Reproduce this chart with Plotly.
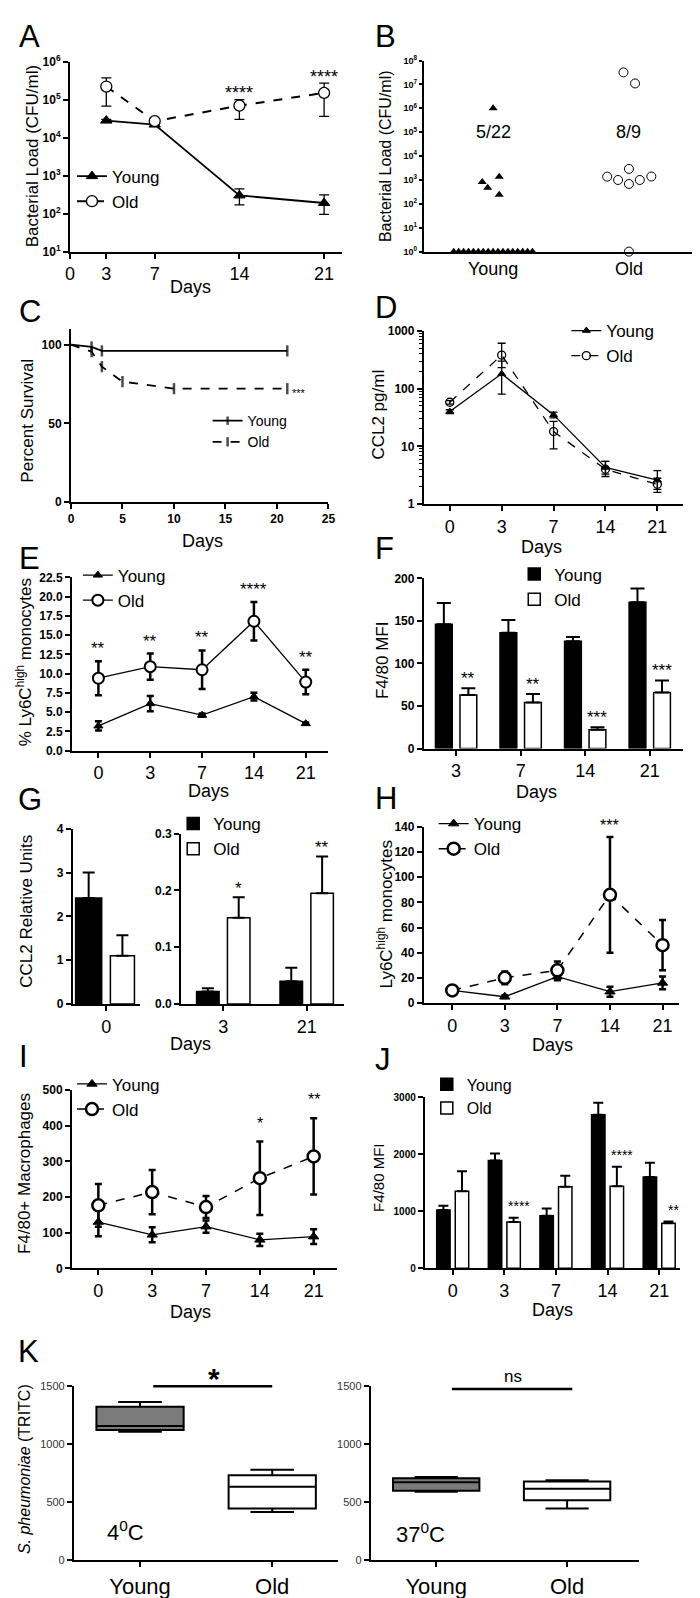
import numpy as np
import plotly.graph_objects as go

W, H = 700, 1598
FONT = "Liberation Sans, Arial, Helvetica, sans-serif"

# ===================== DATA =====================
# A: bacterial load (CFU/ml) over days
days_A = [3, 7, 14, 21]
young_A = [28000, 22000, 300, 190]
young_A_up = [2000, 2000, 150, 120]
young_A_dn = [2000, 2000, 130, 95]
old_A = [220000, 27000, 69000, 150000]
old_A_up = [150000, 3000, 31000, 120000]
old_A_dn = [153000, 3000, 39000, 114000]
stars_A = ["", "", "****", "****"]

# B: individual bacterial loads
young_B = [1000000, 1380, 820, 470, 240,
           1, 1, 1, 1, 1, 1, 1, 1, 1, 1, 1, 1, 1, 1, 1, 1, 1]
old_B = [32000000, 11000000, 2900, 1380, 1000, 680, 1000, 1400, 1]
groups_B = ["Young", "Old"]
frac_B = ["5/22", "8/9"]
stars_B = "***"

# C: survival
surv_t_young = [0, 2, 3, 21]
surv_young = [100, 98.5, 96, 96]
surv_t_old = [0, 2, 3, 5, 10, 21]
surv_old = [100, 95.5, 86, 76.5, 72, 72]

# shared day categories
days_cat = ["0", "3", "7", "14", "21"]

# D: CCL2 pg/ml
young_D = [40, 180, 35, 4.3, 2.6]
young_D_up = [3, 120, 4, 1.2, 1.2]
young_D_dn = [3, 100, 4, 1.0, 0.8]
old_D = [58, 380, 18, 4.0, 2.2]
old_D_up = [4, 230, 9, 1.5, 0.6]
old_D_dn = [4, 150, 9, 1.0, 0.6]

# E: % Ly6C high monocytes
young_E = [3.2, 6.1, 4.6, 7.0, 3.5]
young_E_err = [0.6, 1.0, 0.2, 0.5, 0.15]
old_E = [9.4, 10.9, 10.5, 16.8, 8.9]
old_E_err = [2.2, 1.7, 2.5, 2.5, 1.6]
stars_E = ["**", "**", "**", "****", "**"]

# F: F4/80 MFI
days_F = ["3", "7", "14", "21"]
young_F = [146, 136, 126, 172]
young_F_err = [25, 15, 5, 16]
old_F = [63, 54, 22, 66]
old_F_err = [8, 10, 3, 14]
stars_F = ["**", "**", "***", "***"]

# G: CCL2 relative units
days_G0 = ["0"]
young_G0 = [2.42]
young_G0_err = [0.58]
old_G0 = [1.1]
old_G0_err = [0.47]
days_G = ["3", "21"]
young_G = [0.022, 0.040]
young_G_err = [0.006, 0.024]
old_G = [0.152, 0.195]
old_G_err = [0.036, 0.065]
stars_G = ["*", "**"]

# H: Ly6C high monocytes
young_H = [10, 5, 21, 9, 16]
young_H_err = [1, 1, 3, 4, 5]
old_H = [10, 20, 26, 86, 46]
old_H_err = [1.5, 5, 7, 46, 20]
stars_H = ["", "", "", "***", ""]

# I: F4/80+ macrophages
young_I = [130, 94, 117, 80, 89]
young_I_err = [40, 21, 17, 17, 21]
old_I = [177, 214, 172, 253, 314]
old_I_err = [60, 62, 31, 103, 107]
stars_I = ["", "", "", "*", "**"]

# J: F4/80 MFI
young_J = [1020, 1890, 920, 2690, 1600]
young_J_err = [75, 120, 130, 210, 250]
old_J = [1350, 810, 1430, 1440, 790]
old_J_err = [350, 75, 190, 340, 30]
stars_J = ["", "****", "", "****", "**"]

# K: S. pneumoniae binding (box stats)
groups_K = ["Young", "Old"]
k4_lo = [1107, 417]
k4_q1 = [1123, 447]
k4_med = [1157, 633]
k4_q3 = [1323, 733]
k4_hi = [1363, 780]
k37_lo = [590, 447]
k37_q1 = [600, 517]
k37_med = [673, 617]
k37_q3 = [707, 680]
k37_hi = [717, 690]
sig_K = ["*", "ns"]
temp_K = ["4<sup>0</sup>C", "37<sup>0</sup>C"]

# ===================== LAYOUT HELPERS =====================
def sfx(n):
    return "" if n == 1 else str(n)

layout = dict(width=W, height=H, margin=dict(l=0, r=0, t=0, b=0),
              paper_bgcolor="white", plot_bgcolor="white", showlegend=True,
              font=dict(family=FONT, color="black"), barmode="overlay")

AX = {
    1: (58, 335, 45, 237),
    2: (418, 693, 44, 237),
    3: (59, 321, 315, 490),
    4: (418, 682, 317, 492),
    5: (60, 320, 566, 741),
    6: (418, 682, 567, 739),
    7: (61, 129, 820, 997),
    8: (171, 337, 825, 997),
    9: (418, 678, 818, 996),
    10: (60, 330, 1084, 1264),
    11: (419, 679, 1091, 1264),
    12: (62, 331, 1383, 1559),
    13: (364, 637, 1383, 1559),
}

def base_axis():
    return dict(showline=True, linecolor="black", linewidth=2, ticks="outside",
                ticklen=5, tickwidth=2, tickcolor="black", showgrid=False,
                zeroline=False, fixedrange=True)

def add_axes(n, xkw, ykw):
    x0, x1, yt, yb = AX[n]
    s = sfx(n)
    xa = base_axis(); xa.update(domain=[x0 / W, x1 / W], anchor="y" + s); xa.update(xkw)
    ya = base_axis(); ya.update(domain=[1 - yb / H, 1 - yt / H], anchor="x" + s); ya.update(ykw)
    layout["xaxis" + s] = xa
    layout["yaxis" + s] = ya

def tf(size, bold=False, color="black"):
    d = dict(size=size, family=FONT, color=color)
    if bold:
        d["weight"] = "bold"
    return d

XT = tf(18)
YT = tf(12, True)
idx5 = list(range(5))

# A
add_axes(1, dict(range=[0, 22.5], tickvals=[0, 3, 7, 14, 21], tickfont=XT),
         dict(type="log", range=[1, 6], tickvals=[10 ** k for k in range(1, 7)],
              ticktext=["10<sup>%d</sup>" % k for k in range(1, 7)], tickfont=tf(12, True)))
# B
add_axes(2, dict(range=[0.49, 2.48], tickvals=[1, 2], ticktext=groups_B, ticks="", tickfont=XT),
         dict(type="log", range=[0, 8], tickvals=[10 ** k for k in range(0, 9)],
              ticktext=["10<sup>%d</sup>" % k for k in range(0, 9)], tickfont=tf(9, True),
              ticklen=3))
# C
add_axes(3, dict(range=[0, 25], tickvals=[0, 5, 10, 15, 20, 25], tickfont=tf(12, True)),
         dict(range=[0, 110], tickvals=[0, 50, 100], tickfont=YT))
# D
add_axes(4, dict(range=[-0.5, 4.5], tickvals=idx5, ticktext=days_cat, tickfont=XT),
         dict(type="log", range=[0, 3], tickvals=[1, 10, 100, 1000],
              ticktext=["1", "10", "100", "1000"], tickfont=YT,
              minor=dict(ticks="outside", ticklen=3, tickwidth=1, tickcolor="black",
                         dtick="D1", showgrid=False)))
# E
add_axes(5, dict(range=[-0.51, 4.42], tickvals=idx5, ticktext=days_cat, tickfont=XT),
         dict(range=[0, 22.5], dtick=2.5, tickformat=".1f", tickfont=YT))
# F
add_axes(6, dict(range=[-0.5, 3.52], tickvals=list(range(4)), ticktext=days_F, tickfont=XT),
         dict(range=[0, 200], dtick=50, tickfont=YT))
# G left / right
add_axes(7, dict(range=[-0.5, 0.5], tickvals=[0], ticktext=days_G0, tickfont=XT),
         dict(range=[0, 4], dtick=1, tickfont=YT))
add_axes(8, dict(range=[-0.506, 1.45], tickvals=[0, 1], ticktext=days_G, tickfont=XT),
         dict(range=[0, 0.3], dtick=0.1, tickformat=".1f", tickfont=YT))
# H
add_axes(9, dict(range=[-0.54, 4.32], tickvals=idx5, ticktext=days_cat, tickfont=XT),
         dict(range=[0, 140], dtick=20, tickfont=tf(12, True)))
# I
add_axes(10, dict(range=[-0.49, 4.44], tickvals=idx5, ticktext=days_cat, tickfont=XT),
         dict(range=[0, 500], dtick=100, tickfont=YT))
# J
add_axes(11, dict(range=[-0.54, 4.41], tickvals=idx5, ticktext=days_cat, tickfont=XT),
         dict(range=[0, 3000], dtick=1000, tickfont=tf(10, True)))
# K
KR1 = [-0.5, 1.5]
KR2 = [-0.5, 1.55]
add_axes(12, dict(range=KR1, tickvals=[0, 1], ticktext=groups_K, tickfont=tf(22)),
         dict(range=[0, 1500], dtick=500, tickfont=tf(11, False, "#333333"), tickwidth=1.5))
add_axes(13, dict(range=KR2, tickvals=[0, 1], ticktext=groups_K, tickfont=tf(22)),
         dict(range=[0, 1500], dtick=500, tickfont=tf(11, False, "#333333"), tickwidth=1.5))

# legends: (name, text-start x px, first item centre y px, font size)
LEG = {
    "legend": (112, 174, 17),
    "legend2": (250, 420, 14),
    "legend3": (615, 330, 17),
    "legend4": (118, 577, 17),
    "legend5": (562, 576, 17),
    "legend6": (215, 828, 17),
    "legend7": (480, 828, 17),
    "legend8": (112, 1091, 17),
    "legend9": (473, 1091, 16),
}
for key, (tx, sy, fs) in LEG.items():
    layout[key] = dict(x=(tx - 52) / W, y=1 - (sy - 14 - fs) / H, xanchor="left",
                       yanchor="top", bgcolor="rgba(0,0,0,0)", font=tf(fs),
                       tracegroupgap=0, itemwidth=30)

# ===================== TRACES =====================
traces = []

def line_tr(n, x, y, up, dn, name, symbol, size, mlw, fill, dash, legend, lw=1.5,
            eth=1.5, ew=4, showlegend=True):
    s = sfx(n)
    return go.Scatter(x=x, y=y, xaxis="x" + s, yaxis="y" + s, mode="lines+markers",
                      name=name, legend=legend, showlegend=showlegend, cliponaxis=False,
                      line=dict(color="black", width=lw, dash=dash),
                      marker=dict(symbol=symbol, size=size, color=fill,
                                  line=dict(color="black", width=mlw)),
                      error_y=dict(type="data", symmetric=False, array=up, arrayminus=dn,
                                   color="black", thickness=eth, width=ew))

def bar_tr(n, x, y, err, name, fill, offset, width, legend, ew=6, eth=2, showlegend=True):
    s = sfx(n)
    return go.Bar(x=x, y=y, xaxis="x" + s, yaxis="y" + s, name=name, legend=legend,
                  showlegend=showlegend, offset=offset, width=width,
                  marker=dict(color=fill, line=dict(color="black", width=1.5)),
                  error_y=dict(type="data", symmetric=False, array=err,
                               arrayminus=[0] * len(err), color="black",
                               thickness=eth, width=ew))

# A
traces.append(line_tr(1, days_A, young_A, young_A_up, young_A_dn, "Young", "triangle-up",
                      10, 1, "black", "solid", "legend", lw=1.8, eth=1.3, ew=5))
traces.append(line_tr(1, days_A, old_A, old_A_up, old_A_dn, "Old", "circle", 11, 1.3,
                      "white", "dash", "legend", lw=2, eth=1.3, ew=5))

# B
young_B_jit = [0.0, 0.045, -0.08, -0.04, 0.045] + list(np.linspace(-0.29, 0.29, 17))
old_B_jit = [-0.04, 0.045, 0.0, -0.16, -0.08, 0.0, 0.08, 0.165, 0.0]
traces.append(go.Scatter(x=[1 + j for j in young_B_jit], y=young_B, xaxis="x2", yaxis="y2",
                         mode="markers", showlegend=False, cliponaxis=False,
                         marker=dict(symbol="triangle-up", size=8, color="black")))
traces.append(go.Scatter(x=[2 + j for j in old_B_jit], y=old_B, xaxis="x2", yaxis="y2",
                         mode="markers", showlegend=False, cliponaxis=False,
                         marker=dict(symbol="circle", size=9, color="white",
                                     line=dict(color="black", width=1))))

# C
traces.append(go.Scatter(x=surv_t_young, y=surv_young, xaxis="x3", yaxis="y3",
                         mode="lines+markers", name="Young", legend="legend2", cliponaxis=False,
                         line=dict(color="black", width=1.8),
                         marker=dict(symbol="line-ns", size=[0] + [8] * (len(surv_young) - 1),
                                     line=dict(color="black", width=2.5))))
traces.append(go.Scatter(x=surv_t_old, y=surv_old, xaxis="x3", yaxis="y3",
                         mode="lines+markers", name="Old", legend="legend2", cliponaxis=False,
                         line=dict(color="black", width=1.8, dash="dash"),
                         marker=dict(symbol="line-ns", size=[0] + [8] * (len(surv_old) - 1),
                                     line=dict(color="black", width=2.5))))

# D
traces.append(line_tr(4, idx5, young_D, young_D_up, young_D_dn, "Young", "triangle-up", 7, 1,
                      "black", "solid", "legend3", lw=1.3, eth=1.3, ew=4))
traces.append(line_tr(4, idx5, old_D, old_D_up, old_D_dn, "Old", "circle-open", 8, 1.3,
                      "black", "dash", "legend3", lw=1.3, eth=1.3, ew=4))

# E
traces.append(line_tr(5, idx5, young_E, young_E_err, young_E_err, "Young", "triangle-up", 8, 1,
                      "black", "solid", "legend4", lw=1.3, eth=2.5, ew=3.5))
traces.append(line_tr(5, idx5, old_E, old_E_err, old_E_err, "Old", "circle", 11, 2,
                      "white", "solid", "legend4", lw=1.3, eth=2.5, ew=3.5))

# F
F_OFF_Y, F_OFF_O, F_W = -0.32, 0.06, 0.26
traces.append(bar_tr(6, list(range(4)), young_F, young_F_err, "Young", "black", F_OFF_Y, F_W,
                     "legend5", ew=7))
traces.append(bar_tr(6, list(range(4)), old_F, old_F_err, "Old", "white", F_OFF_O, F_W,
                     "legend5", ew=7))

# G
traces.append(bar_tr(7, [0], young_G0, young_G0_err, "Young", "black", -0.46, 0.39, "legend6",
                     ew=6, showlegend=False))
traces.append(bar_tr(7, [0], old_G0, old_G0_err, "Old", "white", 0.06, 0.36, "legend6",
                     ew=6, showlegend=False))
G_OFF_Y, G_OFF_O, G_W = -0.32, 0.05, 0.27
traces.append(bar_tr(8, [0, 1], young_G, young_G_err, "Young", "black", G_OFF_Y, G_W,
                     "legend6", ew=6))
traces.append(bar_tr(8, [0, 1], old_G, old_G_err, "Old", "white", G_OFF_O, G_W,
                     "legend6", ew=6))

# H
traces.append(line_tr(9, idx5, young_H, young_H_err, young_H_err, "Young", "triangle-up", 9, 1,
                      "black", "solid", "legend7", lw=1.3, eth=2.5, ew=3.5))
traces.append(line_tr(9, idx5, old_H, old_H_err, old_H_err, "Old", "circle", 12, 2.5,
                      "white", "dash", "legend7", lw=1.5, eth=2.5, ew=3.5))

# I
traces.append(line_tr(10, idx5, young_I, young_I_err, young_I_err, "Young", "triangle-up", 9, 1,
                      "black", "solid", "legend8", lw=1.3, eth=2.5, ew=3.5))
traces.append(line_tr(10, idx5, old_I, old_I_err, old_I_err, "Old", "circle", 12, 2.5,
                      "white", "dash", "legend8", lw=1.5, eth=2.5, ew=3.5))

# J
J_OFF_Y, J_OFF_O, J_W = -0.31, 0.05, 0.26
traces.append(bar_tr(11, idx5, young_J, young_J_err, "Young", "black", J_OFF_Y, J_W,
                     "legend9", ew=5))
traces.append(bar_tr(11, idx5, old_J, old_J_err, "Old", "white", J_OFF_O, J_W,
                     "legend9", ew=5))

# K boxes
for n, lo, q1, med, q3, hi in [(12, k4_lo, k4_q1, k4_med, k4_q3, k4_hi),
                               (13, k37_lo, k37_q1, k37_med, k37_q3, k37_hi)]:
    s = sfx(n)
    for i, fill in enumerate(["#7b7b7b", "white"]):
        traces.append(go.Box(x=[i], q1=[q1[i]], median=[med[i]], q3=[q3[i]],
                             lowerfence=[lo[i]], upperfence=[hi[i]], xaxis="x" + s,
                             yaxis="y" + s, width=0.66, whiskerwidth=0.5, boxpoints=False,
                             fillcolor=fill, line=dict(color="black", width=2),
                             showlegend=False))

# ===================== ANNOTATIONS =====================
ann = []
shapes = []

def star(n, x, y, text, fs, gap, bold=False):
    s = sfx(n)
    return dict(xref="x" + s, yref="y" + s, x=x, y=y, text=text, showarrow=False,
                xanchor="center", yanchor="bottom", yshift=gap - 0.82 * fs - 1,
                font=tf(fs, bold))

for i, t in enumerate(stars_A):
    if t:
        ann.append(star(1, days_A[i], np.log10(old_A[i] + old_A_up[i]), t, 18, 10))
ann.append(star(2, 2, 8.7, stars_B, 15, 0))
for i, t in enumerate(frac_B):
    ann.append(dict(xref="x2", yref="y2", x=i + 1, y=5, text=t, showarrow=False,
                    font=tf(18), xanchor="center", yanchor="middle"))
ann.append(dict(xref="x3", yref="y3", x=surv_t_old[-1] + 0.3, y=surv_old[-1], text="***",
                showarrow=False, xanchor="left", yanchor="middle", yshift=-4, font=tf(11)))
for i, t in enumerate(stars_E):
    ann.append(star(5, i, old_E[i] + old_E_err[i], t, 17, 16))
for i, t in enumerate(stars_F):
    ann.append(star(6, i + F_OFF_O + F_W / 2, old_F[i] + old_F_err[i], t, 17, 13))
for i, t in enumerate(stars_G):
    ann.append(star(8, i + G_OFF_O + G_W / 2, old_G[i] + old_G_err[i], t, 17, 12))
for i, t in enumerate(stars_H):
    if t:
        ann.append(star(9, i, old_H[i] + old_H_err[i], t, 16, 15))
for i, t in enumerate(stars_I):
    if t:
        ann.append(star(10, i, old_I[i] + old_I_err[i], t, 16, 22))
for i, t in enumerate(stars_J):
    if t:
        ann.append(star(11, i + J_OFF_O + J_W / 2 + 0.1, old_J[i] + old_J_err[i], t, 14, 14))

# K significance bars
def dfrac(v, r):
    return (v - r[0]) / (r[1] - r[0])

for n, rng, yv, xa, xb, txt, fs, bold, gap in [(12, KR1, 1500, 0.1, 1.0, sig_K[0], 30, True, 15),
                                               (13, KR2, 1475, 0.12, 1.04, sig_K[1], 17, False, 16)]:
    s = sfx(n)
    shapes.append(dict(type="line", xref="x%s domain" % s, yref="y%s domain" % s,
                       x0=dfrac(xa, rng), x1=dfrac(xb, rng), y0=yv / 1500, y1=yv / 1500,
                       line=dict(color="black", width=2.5)))
    ann.append(star(n, (xa + xb) / 2 + 0.01, yv, txt, fs, gap, bold))
ann.append(dict(xref="x12", yref="y12", x=-0.11, y=257, text=temp_K[0], showarrow=False,
                xanchor="center", yanchor="middle", font=tf(22)))
ann.append(dict(xref="x13", yref="y13", x=-0.12, y=240, text=temp_K[1], showarrow=False,
                xanchor="center", yanchor="middle", font=tf(22)))

# axis titles (paper px positions)
def ytitle(text, px, py, fs=17):
    return dict(xref="paper", yref="paper", x=px / W, y=1 - py / H, text=text,
                textangle=-90, showarrow=False, xanchor="center", yanchor="middle",
                font=tf(fs))

def xtitle(text, px, py, fs=18):
    return dict(xref="paper", yref="paper", x=px / W, y=1 - py / H, text=text,
                showarrow=False, xanchor="center", yanchor="middle", font=tf(fs))

ann += [
    ytitle("Bacterial Load (CFU/ml)", 20, 141),
    ytitle("Bacterial Load (CFU/ml)", 379, 141, 16),
    ytitle("Percent Survival", 15, 408),
    ytitle("CCL2 pg/ml", 372, 402),
    ytitle("% Ly6C<sup>high</sup> monocytes", 12, 652),
    ytitle("F4/80 MFI", 376, 650),
    ytitle("CCL2 Relative Units", 14, 903),
    ytitle("Ly6C<sup>high</sup> monocytes", 378, 907),
    ytitle("F4/80+ Macrophages", 12, 1168),
    ytitle("F4/80 MFI", 372, 1173, 15),
    ytitle("<i>S. pheumoniae</i> (TRITC)", 12, 1467, 16),
    xtitle("Days", 181, 273),
    xtitle("Days", 193, 529),
    xtitle("Days", 538, 535),
    xtitle("Days", 199, 782),
    xtitle("Days", 533, 783),
    xtitle("Days", 181, 1037),
    xtitle("Days", 549, 1038),
    xtitle("Days", 181, 1308),
    xtitle("Days", 549, 1306),
]

# panel letters
for letter, px, py in [("A", 4, 20), ("B", 366, 20), ("C", 4, 297), ("D", 366, 293),
                       ("E", 4, 547), ("F", 366, 537), ("G", 3, 790), ("H", 366, 789),
                       ("I", 4, 1050), ("J", 366, 1053), ("K", 3, 1348)]:
    ann.append(dict(xref="paper", yref="paper", x=px / W, y=1 - py / H, text=letter,
                    showarrow=False, xanchor="left", yanchor="middle", font=tf(31)))

layout["annotations"] = ann
layout["shapes"] = shapes

fig = go.Figure(data=traces, layout=layout)
fig.write_html("out.html")
